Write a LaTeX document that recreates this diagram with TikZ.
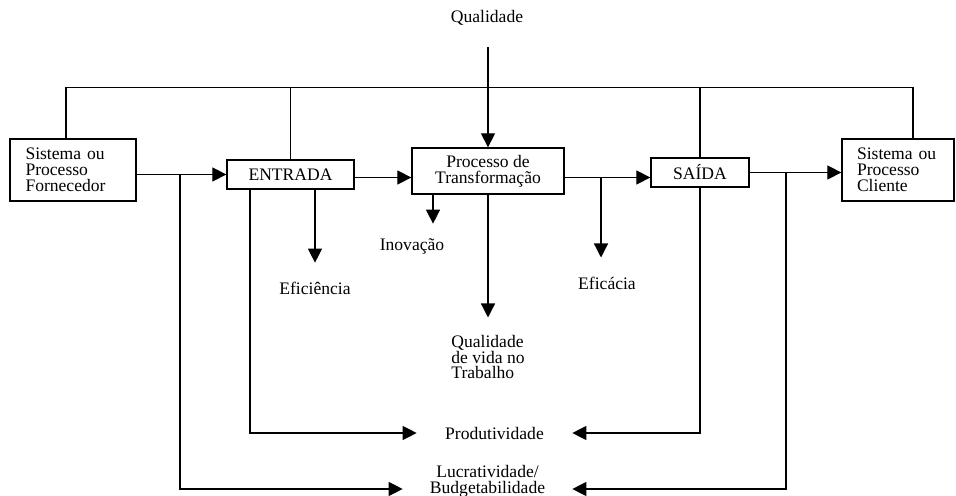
\documentclass[tikz,border=0pt]{standalone}
\usepackage{fontspec}
\setmainfont{Liberation Serif}
\usetikzlibrary{arrows.meta}
\begin{document}
\begin{tikzpicture}[x=0.02cm,y=-0.02cm,
  font=\fontsize{10}{9.1}\selectfont,
  box/.style={draw,line width=0.75pt,inner sep=0pt,fill=white},
  lbl/.style={inner sep=0pt,align=center},
  ln/.style={line width=0.75pt},
  arr/.style={line width=0.75pt,-{Triangle[length=8pt,width=8pt]}}]
\useasboundingbox (0,0) rectangle (956,496);
% boxes
\node[box,minimum width=2.52cm,minimum height=1.24cm,text width=1.9cm,inner xsep=0.31cm,align=left] (forn) at (73,170) {Sistema ou\\Processo\\Fornecedor};
\node[box,minimum width=2.54cm,minimum height=0.58cm] (entrada) at (290.5,174.5) {ENTRADA};
\node[box,minimum width=3.04cm,minimum height=0.92cm,align=center] (proc) at (488,171) {Processo de\\Transformação};
\node[box,minimum width=1.96cm,minimum height=0.58cm] (saida) at (700,172.5) {SAÍDA};
\node[box,minimum width=2.24cm,minimum height=1.24cm,text width=1.64cm,inner xsep=0.3cm,align=left] (cliente) at (898,170) {Sistema ou\\Processo\\Cliente};
% labels
\node[lbl] (qual) at (487,18) {Qualidade};
\node[lbl] (efi) at (315,288) {Eficiência};
\node[lbl] (inov) at (412,246) {Inovação};
\node[lbl] (efc) at (607,283) {Eficácia};
\node[lbl,align=left] (qvt) at (488,357) {Qualidade\\de vida no\\Trabalho};
\node[lbl,minimum width=3.1cm] (prod) at (494.5,433) {Produtividade};
\node[lbl,minimum width=3.38cm] (lucr) at (487.5,481) {Lucratividade/\\Budgetabilidade};
% top feedback line
\draw[ln] ([xshift=-0.14cm]forn.north) -- ++(0,-51) -| ([xshift=0.3cm]cliente.north);
\draw[ln] (entrada.north) -- (entrada.north |- 0,88);
\draw[ln] (saida.north) -- (saida.north |- 0,88);
\draw[arr,shorten <=0.42cm] (qual.south -| proc.north) -- (proc.north);
% main flow
\draw[arr] (entrada.west -| forn.east) -- (entrada.west);
\draw[arr] ([yshift=-0.06cm]entrada.east) -- ([yshift=-0.06cm]entrada.east -| proc.west);
\draw[arr] ([yshift=-0.1cm]proc.east |- saida.west) -- ([yshift=-0.1cm]saida.west);
\draw[arr] (saida.east) -- (saida.east -| cliente.west);
\coordinate (j1) at (180,174.5);
\coordinate (j2) at (601,177.5);
\coordinate (j3) at (786,172.5);
% outcomes
\draw[arr] (efi.north |- entrada.south) -- ++(0,73);
\draw[arr] ([xshift=-1.1cm]proc.south) -- ++(0,29);
\draw[arr,shorten >=0.34cm] (proc.south) -- (qvt.north -| proc.south);
\draw[arr] (j2) -- ++(0,80);
\draw[arr] ([xshift=-0.81cm]entrada.south) |- (prod.west);
\draw[arr] (saida.south) |- (prod.east);
\draw[arr] (j1) |- ([yshift=-0.16cm]lucr.west);
\draw[arr] (j3) |- ([yshift=-0.16cm]lucr.east);
\end{tikzpicture}
\end{document}
